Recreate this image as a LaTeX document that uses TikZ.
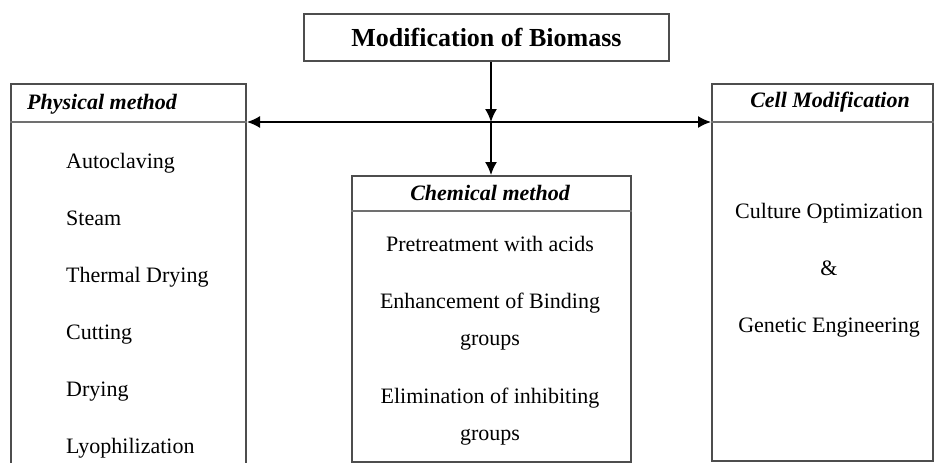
\documentclass[tikz,border=0pt]{standalone}
\usepackage{fontspec}
\setmainfont{Liberation Serif}
\usetikzlibrary{arrows.meta}
\definecolor{boxgray}{HTML}{4D4D4D}
\definecolor{rulegray}{HTML}{707070}
\tikzset{
  box/.style={draw=boxgray, line width=2pt, inner sep=0pt, anchor=north west},
  head/.style={font=\fontsize{22}{26}\selectfont\bfseries\itshape, inner sep=0pt, anchor=base},
  item/.style={font=\fontsize{22}{37}\selectfont, inner sep=0pt, anchor=base, align=center},
  sep/.style={draw=rulegray, line width=2pt},
  link/.style={line width=1.5pt, -{Latex[length=13pt,width=12pt]}},
}

\begin{document}
\begin{tikzpicture}[x=1pt,y=-1pt]
  \useasboundingbox (0,0) rectangle (935,463);

  \node[box, minimum width=365pt, minimum height=47pt,
        font=\fontsize{26}{30}\selectfont\bfseries] (top) at (303,13) {Modification of Biomass};
  \node[box, minimum width=235pt, minimum height=400pt] (phys) at (10,83) {};
  \node[box, minimum width=279pt, minimum height=286pt] (chem) at (351,175) {};
  \node[box, minimum width=221pt, minimum height=377pt] (cell) at (711,83) {};

  \coordinate (hub) at (491,122);
  \coordinate (chemsep) at (491,211);

  \draw[sep] (phys.west |- hub) -- (phys.east |- hub);
  \draw[sep] (cell.west |- hub) -- (cell.east |- hub);
  \draw[sep] (chem.west |- chemsep) -- (chem.east |- chemsep);

  \node[head, anchor=base west] (physhead) at (27,109) {Physical method};
  \node[head] (chemhead) at (490,200) {Chemical method};
  \node[head] (cellhead) at (830,107) {Cell Modification};

  \foreach \t [count=\i] in {Autoclaving,Steam,Thermal Drying,Cutting,Drying,Lyophilization}
    \node[item, anchor=base west] (phys\i) at (66,{168+57*(\i-1)}) {\t};

  % base of a two-line node sits on its last line
  \node[item] (chem1) at (490,251) {Pretreatment with acids};
  \node[item] (chem2) at (490,345) {Enhancement of Binding\\groups};
  \node[item] (chem3) at (490,440) {Elimination of inhibiting\\groups};

  \node[item] (cell1) at (829,218) {Culture Optimization};
  \node[item] (cell2) at (829,275) {\&};
  \node[item] (cell3) at (829,332) {Genetic Engineering};

  \draw[link] (hub |- top.south) -- (hub);
  \draw[link] (hub) -- (hub |- chem.north);
  \draw[link] (hub) -- (hub -| phys.east);
  \draw[link] (hub) -- (hub -| cell.west);
\end{tikzpicture}
\end{document}
